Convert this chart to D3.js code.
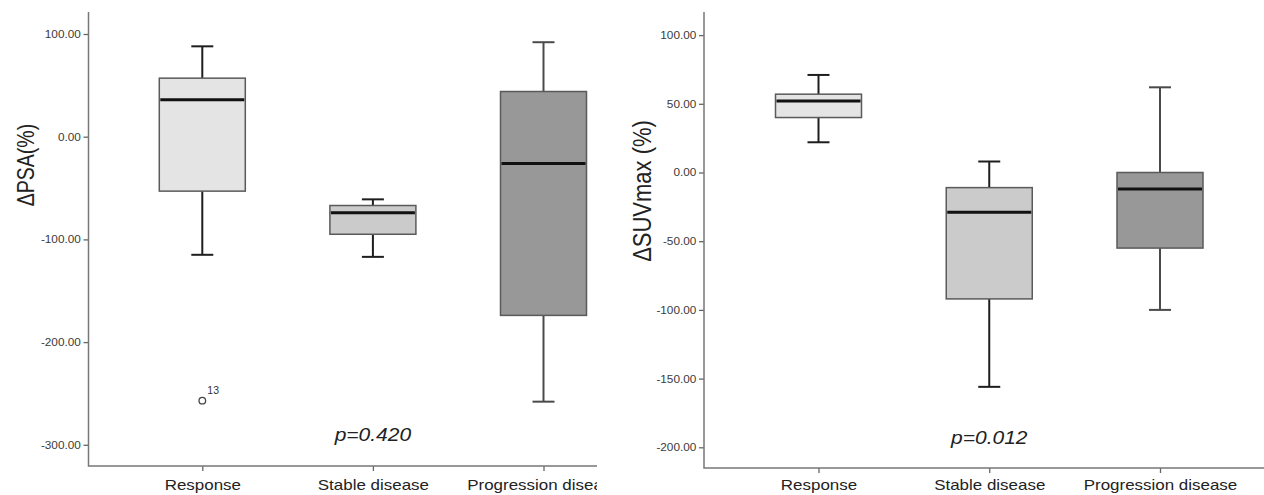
<!DOCTYPE html>
<html>
<head>
<meta charset="utf-8" />
<title>ΔPSA and ΔSUVmax box plots</title>
<script src="https://d3js.org/d3.v7.min.js"></script>
<style>
  body { margin: 0; background: #fff; }
  svg { display: block; font-family: "Liberation Sans", Arial, sans-serif; }
</style>
</head>
<body>
<div id="chart"></div>
<script>
const categories = ["Response", "Stable disease", "Progression disease"];

// ΔPSA (%): lower whisker, Q1, median, Q3, upper whisker per group
const psaLow = [-115, -117, -258];
const psaQ1 = [-53, -95, -174];
const psaMedian = [36, -74, -26];
const psaQ3 = [57, -67, 44];
const psaHigh = [88, -61, 92];
const psaOutliers = [{ group: "Response", value: -257, label: "13" }];
const psaTicks = [100, 0, -100, -200, -300];

// ΔSUVmax (%)
const suvLow = [22, -156, -100];
const suvQ1 = [40, -92, -55];
const suvMedian = [52, -29, -12];
const suvQ3 = [57, -11, 0];
const suvHigh = [71, 8, 62];
const suvOutliers = [];
const suvTicks = [100, 50, 0, -50, -100, -150, -200];

const fills = ["#e4e4e4", "#cbcbcb", "#989898"];
const whiskerColor = ["#1e1e1e", "#1e1e1e", "#4a4a4a"];
const sx = 1.13; // horizontal stretch of the source picture

const svg = d3.select("#chart").append("svg")
  .attr("width", 1264)
  .attr("height", 495);

const drawPanel = (p) => {
  const g = svg.append("g").attr("clip-path", "url(#" + p.id + ")");
  svg.append("clipPath").attr("id", p.id)
    .append("rect").attr("x", p.clip[0]).attr("y", 0)
    .attr("width", p.clip[1] - p.clip[0]).attr("height", 495);

  const y = d3.scaleLinear().domain(p.yDomain).range(p.yRange);
  const x = d3.scalePoint().domain(categories).range(p.catRange);

  // axes
  const ya = g.append("g")
    .attr("transform", "translate(" + p.axisX + ",0)")
    .call(d3.axisLeft(y).tickValues(p.ticks).tickSize(5).tickFormat(d => d.toFixed(2)));
  ya.select(".domain").remove();
  ya.selectAll(".tick line").attr("stroke", "#666").attr("stroke-width", 1.3);
  ya.selectAll(".tick text")
    .attr("x", -6.5).attr("dy", "0.34em")
    .attr("transform", "scale(" + (sx + 0.05) + ",1)")
    .attr("fill", "#3a3a3a").style("font-size", "10px");

  const xa = g.append("g")
    .attr("transform", "translate(0," + p.axisY + ")")
    .call(d3.axisBottom(x).tickSize(5));
  xa.select(".domain").remove();
  xa.selectAll(".tick line").attr("stroke", "#666").attr("stroke-width", 1.3);
  xa.selectAll(".tick text")
    .attr("y", p.labelBase - p.axisY).attr("dy", 0)
    .attr("transform", "scale(" + sx + ",1)")
    .attr("fill", "#222").style("font-size", "15px");

  g.append("path")
    .attr("d", "M" + p.axisX + "," + p.top + "V" + p.axisY + "H" + p.xEnd)
    .attr("fill", "none").attr("stroke", "#777").attr("stroke-width", 1.5);

  // boxes
  const rows = categories.map((c, i) => ({
    c, i, lo: p.low[i], q1: p.q1[i], med: p.median[i], q3: p.q3[i], hi: p.high[i]
  }));
  const bw = 86, cap = 22;
  const box = g.selectAll(".box").data(rows).enter().append("g").attr("class", "box");

  box.append("line")
    .attr("x1", d => x(d.c)).attr("x2", d => x(d.c))
    .attr("y1", d => y(d.hi)).attr("y2", d => y(d.q3))
    .attr("stroke", d => whiskerColor[d.i]).attr("stroke-width", 2);
  box.append("line")
    .attr("x1", d => x(d.c)).attr("x2", d => x(d.c))
    .attr("y1", d => y(d.q1)).attr("y2", d => y(d.lo))
    .attr("stroke", d => whiskerColor[d.i]).attr("stroke-width", 2);
  box.selectAll(".cap").data(d => [d, d].map((r, k) => ({ r, v: k ? r.lo : r.hi })))
    .enter().append("line")
    .attr("x1", d => x(d.r.c) - cap / 2).attr("x2", d => x(d.r.c) + cap / 2)
    .attr("y1", d => y(d.v)).attr("y2", d => y(d.v))
    .attr("stroke", d => whiskerColor[d.r.i]).attr("stroke-width", 2);

  box.append("rect")
    .attr("x", d => x(d.c) - bw / 2)
    .attr("width", bw)
    .attr("y", d => y(d.q3))
    .attr("height", d => y(d.q1) - y(d.q3))
    .attr("fill", d => fills[d.i])
    .attr("stroke", "#5a5a5a").attr("stroke-width", 1.5);

  box.append("line")
    .attr("x1", d => x(d.c) - bw / 2 + 1).attr("x2", d => x(d.c) + bw / 2 - 1)
    .attr("y1", d => y(d.med)).attr("y2", d => y(d.med))
    .attr("stroke", "#111").attr("stroke-width", 3);

  // outliers
  const out = g.selectAll(".out").data(p.outliers).enter().append("g");
  out.append("circle")
    .attr("cx", d => x(d.group)).attr("cy", d => y(d.value)).attr("r", 3.3)
    .attr("fill", "#fff").attr("stroke", "#444").attr("stroke-width", 1.3);
  out.append("text")
    .attr("x", d => x(d.group) + 5).attr("y", d => y(d.value) - 7)
    .attr("fill", "#333").style("font-size", "10.5px")
    .text(d => d.label);

  // titles
  g.append("text")
    .attr("transform", "translate(" + p.titleX + "," + p.titleY + ") scale(" + (sx + 0.07) + ",1) rotate(-90)")
    .attr("text-anchor", "middle").attr("dy", "0.36em")
    .attr("fill", "#222").style("font-size", p.titleSize + "px")
    .text(p.title);

  g.append("text")
    .attr("transform", "translate(" + x(categories[1]) + "," + p.pY + ") scale(" + sx + ",1)")
    .attr("text-anchor", "middle")
    .attr("fill", "#222").style("font-size", "18.6px").style("font-style", "italic")
    .text(p.pText);
};

drawPanel({
  id: "clipL", clip: [0, 597],
  low: psaLow, q1: psaQ1, median: psaMedian, q3: psaQ3, high: psaHigh, outliers: psaOutliers,
  ticks: psaTicks, yDomain: [-300, 100], yRange: [444.8, 34],
  catRange: [202.3, 543.5], axisX: 88.5, axisY: 466, top: 12, xEnd: 617, labelBase: 490.5,
  title: "ΔPSA(%)", titleX: 26, titleY: 165, titleSize: 19.5,
  pText: "p=0.420", pY: 441
});

drawPanel({
  id: "clipR", clip: [600, 1264],
  low: suvLow, q1: suvQ1, median: suvMedian, q3: suvQ3, high: suvHigh, outliers: suvOutliers,
  ticks: suvTicks, yDomain: [-200, 100], yRange: [447.3, 35.1],
  catRange: [818.5, 1160], axisX: 704, axisY: 468, top: 12, xEnd: 1264, labelBase: 490.5,
  title: "ΔSUVmax (%)", titleX: 641, titleY: 191, titleSize: 22,
  pText: "p=0.012", pY: 444
});
</script>
</body>
</html>
